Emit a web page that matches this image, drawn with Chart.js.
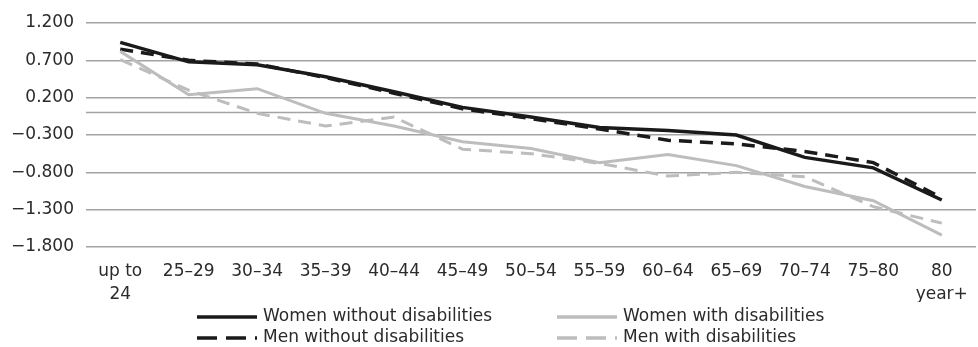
<!DOCTYPE html>
<html>
<head>
<meta charset="utf-8">
<script src="https://cdn.jsdelivr.net/npm/chart.js@4.4.1/dist/chart.umd.min.js"></script>
<style>
  html, body { margin: 0; padding: 0; background: #fff; }
</style>
</head>
<body>
<canvas id="myChart" width="978" height="347"></canvas>
<script>
// DATA
var ageGroups = [['up to', '24'], '25–29', '30–34', '35–39', '40–44', '45–49', '50–54',
  '55–59', '60–64', '65–69', '70–74', '75–80', ['80', 'year+']];
var womenWithout = [0.94, 0.68, 0.64, 0.48, 0.28, 0.07, -0.06, -0.20, -0.24, -0.30, -0.60, -0.74, -1.17];
var womenWith = [0.82, 0.24, 0.32, -0.01, -0.18, -0.39, -0.48, -0.67, -0.56, -0.71, -0.99, -1.18, -1.64];
var menWithout = [0.85, 0.70, 0.65, 0.47, 0.26, 0.05, -0.08, -0.22, -0.37, -0.42, -0.52, -0.67, -1.14];
var menWith = [0.71, 0.30, -0.01, -0.18, -0.06, -0.49, -0.55, -0.68, -0.85, -0.80, -0.86, -1.26, -1.48];
var yTicks = [-1.8, -1.3, -0.8, -0.3, 0.2, 0.7, 1.2];
var yTickLabels = ['−1.800', '−1.300', '−0.800', '−0.300', '0.200', '0.700', '1.200'];

var FONT = 'DejaVu Sans';
var TEXT = '#2b2b2b';
var GRID = '#a3a3a3';
var DARK = '#1a1a1a';
var LIGHT = '#bdbdbd';

// extra line at zero (the category axis)
var zeroLine = {
  id: 'zeroLine',
  beforeDatasetsDraw: function (chart) {
    var ctx = chart.ctx;
    var y = chart.scales.y.getPixelForValue(0);
    ctx.save();
    ctx.strokeStyle = GRID;
    ctx.lineWidth = 1.5;
    ctx.beginPath();
    ctx.moveTo(chart.chartArea.left, y);
    ctx.lineTo(chart.chartArea.right, y);
    ctx.stroke();
    ctx.restore();
  },
};

// two column legend under the axis
var legendGrid = {
  id: 'legendGrid',
  afterDraw: function (chart) {
    var ctx = chart.ctx;
    var cols = [197, 557];
    var rows = [317, 338];
    ctx.save();
    ctx.font = '17px "' + FONT + '"';
    ctx.textBaseline = 'middle';
    chart.data.datasets.forEach(function (ds, i) {
      var x = cols[i % 2];
      var y = rows[Math.floor(i / 2)];
      ctx.strokeStyle = ds.borderColor;
      ctx.lineWidth = 3.5;
      ctx.setLineDash(ds.borderDash ? [20, 9] : []);
      ctx.beginPath();
      ctx.moveTo(x, y);
      ctx.lineTo(x + 60, y);
      ctx.stroke();
      ctx.setLineDash([]);
      ctx.fillStyle = TEXT;
      ctx.fillText(ds.label, x + 66, y);
    });
    ctx.restore();
  },
};

var ctx = document.getElementById('myChart').getContext('2d');
var myChart = new Chart(ctx, {
  type: 'line',
  data: {
    labels: ageGroups,
    datasets: [
      { label: 'Women without disabilities', data: womenWithout, borderColor: DARK, borderWidth: 3.5 },
      { label: 'Women with disabilities', data: womenWith, borderColor: LIGHT, borderWidth: 3 },
      { label: 'Men without disabilities', data: menWithout, borderColor: DARK, borderWidth: 3.5, borderDash: [13, 8] },
      { label: 'Men with disabilities', data: menWith, borderColor: LIGHT, borderWidth: 3, borderDash: [13, 8] },
    ],
  },
  options: {
    responsive: false,
    animation: false,
    layout: { padding: { top: 23, right: 2, bottom: 45, left: 0 } },
    elements: {
      point: { radius: 0 },
      line: { tension: 0, fill: false },
    },
    scales: {
      x: {
        offset: true,
        grid: { display: false },
        border: { display: false },
        ticks: {
          autoSkip: false,
          maxRotation: 0,
          padding: 6,
          color: TEXT,
          font: { size: 17, family: FONT, lineHeight: 1.3 },
        },
        afterFit: function (scale) {
          scale.height = 55;
        },
      },
      y: {
        min: -1.8,
        max: 1.2,
        border: { display: false },
        grid: { color: GRID, lineWidth: 1.5, drawTicks: false },
        ticks: {
          padding: 12,
          color: TEXT,
          font: { size: 17, family: FONT },
          callback: function (value) {
            var i = yTicks.findIndex(function (t) { return Math.abs(t - value) < 1e-6; });
            return i >= 0 ? yTickLabels[i] : '';
          },
        },
        afterBuildTicks: function (scale) {
          scale.ticks = yTicks.map(function (v) { return { value: v }; });
        },
        afterFit: function (scale) {
          scale.width = 86;
        },
      },
    },
    plugins: {
      legend: { display: false },
      tooltip: { enabled: false },
    },
  },
  plugins: [zeroLine, legendGrid],
});
</script>
</body>
</html>
